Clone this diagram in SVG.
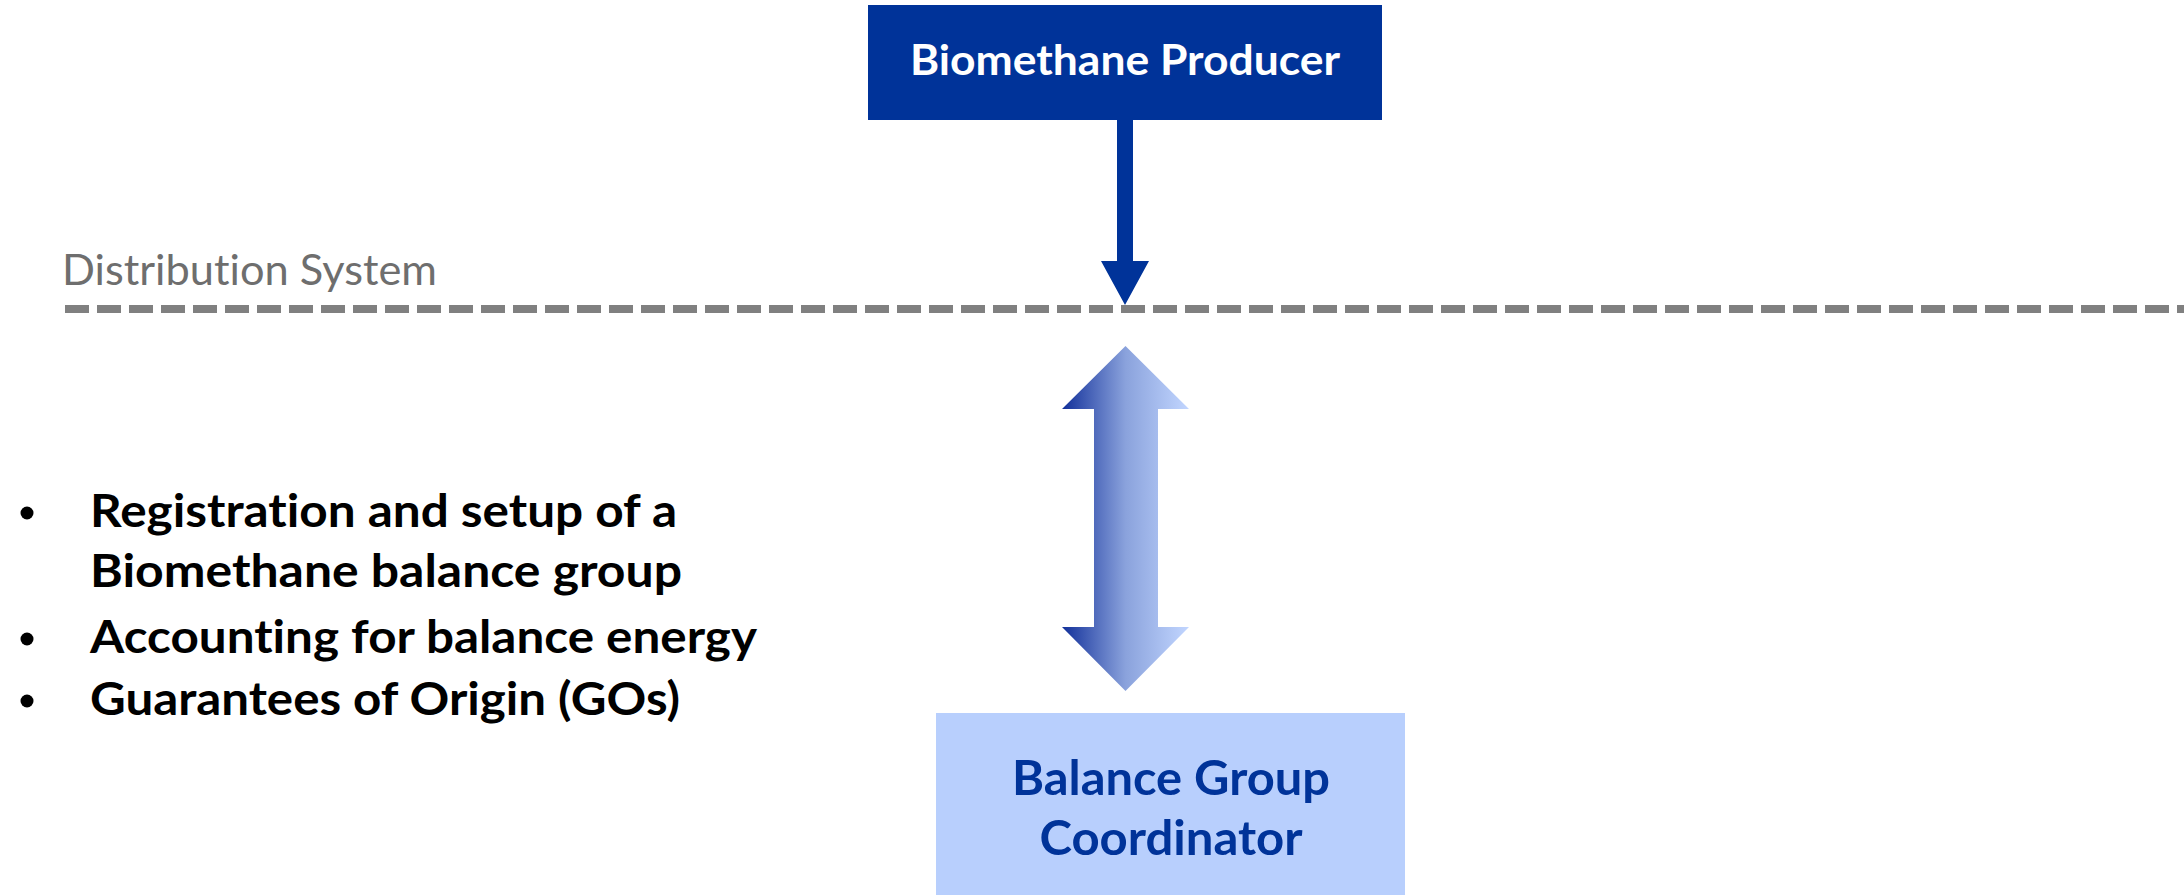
<svg xmlns="http://www.w3.org/2000/svg" width="2184" height="895" viewBox="0 0 2184 895">
  <style>
    text { font-variant-ligatures: none; }
    .box-dark { fill: #003399; }
    .box-light { fill: #b8cffd; }
    .label-white { font-family: Lato, "Open Sans", sans-serif; font-weight: bold; fill: #ffffff; }
    .label-blue { font-family: Lato, "Open Sans", sans-serif; font-weight: bold; fill: #003399; }
    .bullet { font-family: Lato, "Open Sans", sans-serif; font-weight: bold; font-size: 45px; fill: #000000; }
    .sys { font-family: Lato, "Open Sans", sans-serif; font-size: 42px; fill: #6e6e6e; }
  </style>
  <defs>
    <linearGradient id="arrowGrad" x1="1062" y1="0" x2="1189" y2="0" gradientUnits="userSpaceOnUse">
      <stop offset="0" stop-color="#12309a"/>
      <stop offset="0.5" stop-color="#8aa2dc"/>
      <stop offset="1" stop-color="#c2d6ff"/>
    </linearGradient>
  </defs>

  <rect width="2184" height="895" fill="#ffffff"/>

  <g id="distribution-system">
    <text class="sys" x="62" y="285" textLength="375" lengthAdjust="spacingAndGlyphs">Distribution System</text>
    <line x1="65" y1="309" x2="2184" y2="309" stroke="#808080" stroke-width="8" stroke-dasharray="24 8"/>
  </g>

  <g id="connectors">
    <polygon fill="#003399" points="1117,120 1133,120 1133,261 1149,261 1125,305 1101,261 1117,261"/>
    <polygon fill="url(#arrowGrad)" points="1125.5,346 1189,409 1158,409 1158,627 1189,627 1125.5,691 1062,627 1094,627 1094,409 1062,409"/>
  </g>

  <g id="biomethane-producer">
    <rect class="box-dark" x="868" y="5" width="514" height="115"/>
    <text class="label-white" x="1125" y="75" font-size="42" text-anchor="middle" textLength="430" lengthAdjust="spacingAndGlyphs">Biomethane Producer</text>
  </g>

  <g id="balance-group-coordinator">
    <rect class="box-light" x="936" y="713" width="469" height="182"/>
    <text class="label-blue" x="1171" y="795" font-size="48" text-anchor="middle" textLength="318" lengthAdjust="spacingAndGlyphs">Balance Group</text>
    <text class="label-blue" x="1171" y="855" font-size="48" text-anchor="middle" textLength="263" lengthAdjust="spacingAndGlyphs">Coordinator</text>
  </g>

  <g id="bullet-list">
    <circle cx="27" cy="513" r="6.5" fill="#000"/>
    <circle cx="27" cy="639" r="6.5" fill="#000"/>
    <circle cx="27" cy="701" r="6.5" fill="#000"/>
    <text class="bullet" x="90" y="527" textLength="587" lengthAdjust="spacingAndGlyphs">Registration and setup of a</text>
    <text class="bullet" x="90" y="587" textLength="592" lengthAdjust="spacingAndGlyphs">Biomethane balance group</text>
    <text class="bullet" x="90" y="653" textLength="667" lengthAdjust="spacingAndGlyphs">Accounting for balance energy</text>
    <text class="bullet" x="90" y="715" textLength="590" lengthAdjust="spacingAndGlyphs">Guarantees of Origin (GOs)</text>
  </g>
</svg>
